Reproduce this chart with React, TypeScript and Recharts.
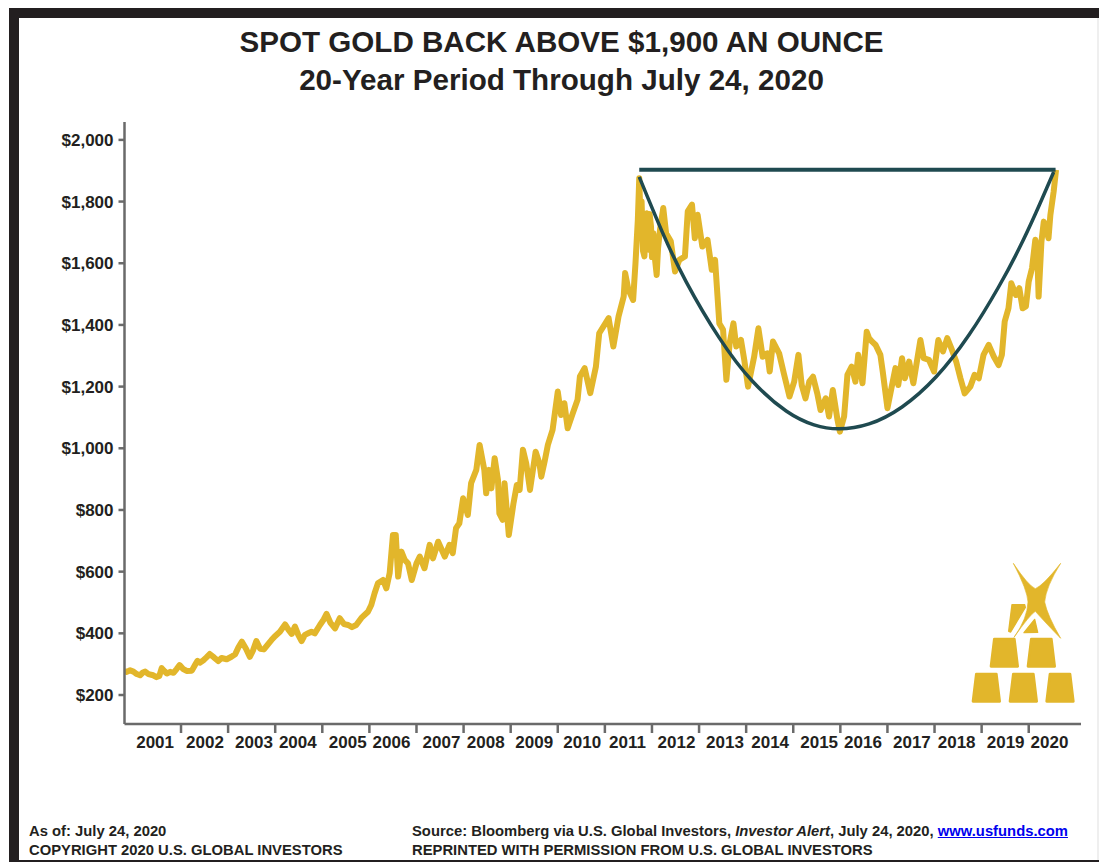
import React from 'react';
import { LineChart, Line, XAxis, YAxis } from 'recharts';

const goldYears = [
  2000.8, 2000.85, 2000.92, 2000.99, 2001.06, 2001.13, 2001.19, 2001.24, 2001.31, 2001.41,
  2001.48, 2001.54, 2001.59, 2001.65, 2001.7, 2001.77, 2001.84, 2001.91, 2001.97, 2002.04,
  2002.12, 2002.23, 2002.3, 2002.35, 2002.4, 2002.47, 2002.54, 2002.61, 2002.7, 2002.79,
  2002.86, 2002.97, 2003.07, 2003.15, 2003.22, 2003.29, 2003.38, 2003.46, 2003.53, 2003.6,
  2003.68, 2003.76, 2003.85, 2003.92, 2003.99, 2004.1, 2004.21, 2004.28, 2004.35, 2004.42,
  2004.49, 2004.56, 2004.63, 2004.7, 2004.77, 2004.84, 2004.95, 2005.03, 2005.09, 2005.17,
  2005.27, 2005.37, 2005.46, 2005.55, 2005.63, 2005.72, 2005.83, 2005.97, 2006.04, 2006.11,
  2006.18, 2006.29, 2006.36, 2006.43, 2006.5, 2006.56, 2006.61, 2006.68, 2006.75, 2006.82,
  2006.9, 2007.0, 2007.07, 2007.17, 2007.28, 2007.35, 2007.46, 2007.6, 2007.7, 2007.77,
  2007.84, 2007.91, 2007.99, 2008.09, 2008.16, 2008.27, 2008.34, 2008.44, 2008.48, 2008.54,
  2008.59, 2008.66, 2008.73, 2008.76, 2008.83, 2008.87, 2008.96, 2009.06, 2009.13, 2009.19,
  2009.26, 2009.33, 2009.41, 2009.53, 2009.61, 2009.65, 2009.72, 2009.79, 2009.89, 2010.0,
  2010.07, 2010.14, 2010.21, 2010.32, 2010.42, 2010.47, 2010.57, 2010.69, 2010.81, 2010.88,
  2011.08, 2011.18, 2011.29, 2011.4, 2011.43, 2011.5, 2011.6, 2011.65, 2011.7, 2011.73,
  2011.76, 2011.78, 2011.81, 2011.84, 2011.87, 2011.89, 2011.91, 2011.93, 2011.95, 2011.98,
  2012.0, 2012.03, 2012.06, 2012.1, 2012.13, 2012.17, 2012.24, 2012.3,
  2012.4, 2012.49, 2012.58, 2012.7, 2012.76, 2012.85, 2012.91, 2012.97, 2013.07, 2013.18,
  2013.27, 2013.34, 2013.43, 2013.51, 2013.58, 2013.65, 2013.73, 2013.79, 2013.89, 2013.96,
  2014.04, 2014.17, 2014.26, 2014.35, 2014.45, 2014.5, 2014.57, 2014.7, 2014.8, 2014.92,
  2015.02, 2015.11, 2015.18, 2015.26, 2015.34, 2015.42, 2015.51, 2015.58, 2015.69, 2015.76,
  2015.84, 2015.94, 2015.99, 2016.08, 2016.15, 2016.24, 2016.32, 2016.38, 2016.47, 2016.56,
  2016.61, 2016.68, 2016.75, 2016.85, 2016.9, 2017.0, 2017.07, 2017.17, 2017.23, 2017.31,
  2017.37, 2017.46, 2017.55, 2017.7, 2017.77, 2017.88, 2017.99, 2018.08, 2018.18, 2018.27,
  2018.37, 2018.46, 2018.55, 2018.64, 2018.76, 2018.85, 2018.94, 2019.04, 2019.15, 2019.26,
  2019.36, 2019.43, 2019.49, 2019.57, 2019.63, 2019.73, 2019.8, 2019.87, 2019.94, 2020.0,
  2020.07, 2020.14, 2020.18, 2020.21, 2020.27, 2020.32, 2020.42, 2020.46, 2020.53, 2020.58,
];

const goldPrices = [
  278, 275, 280, 276, 268, 264, 273, 276, 268, 264,
  258, 262, 287, 277, 270, 275, 272, 285, 297, 285,
  278, 279, 298, 311, 305, 312, 322, 333, 322, 310,
  320, 316, 324, 332, 355, 373, 350, 324, 345, 375,
  350, 348, 365, 378, 390, 405, 429, 412, 398, 422,
  395, 375, 395, 400, 405, 400, 427, 445, 463, 435,
  416, 449, 430, 427, 420, 427, 450, 470, 492, 530,
  562, 573, 546, 595, 719, 719, 584, 665, 638, 627,
  573, 627, 649, 611, 687, 643, 697, 649, 687, 660,
  741, 757, 838, 784, 887, 930, 1011, 930, 854, 930,
  870, 968, 897, 789, 768, 887, 719, 822, 881, 865,
  995, 951, 865, 989, 951, 908, 957, 1011, 1060, 1184,
  1108, 1146, 1065, 1114, 1157, 1233, 1260, 1179, 1265, 1373,
  1422, 1330, 1427, 1492, 1568, 1514, 1481, 1600, 1741, 1876,
  1720, 1800, 1640, 1622, 1740, 1762, 1660, 1644, 1760, 1719,
  1620, 1697, 1620, 1562, 1650, 1708, 1779, 1697,
  1671, 1573, 1611, 1622, 1768, 1790, 1681, 1757, 1654, 1676,
  1579, 1611, 1405, 1384, 1222, 1341, 1405, 1330, 1351, 1286,
  1200, 1297, 1389, 1297, 1308, 1249, 1346, 1308, 1243, 1168,
  1216, 1303, 1205, 1162, 1216, 1232, 1178, 1124, 1162, 1103,
  1189, 1092, 1054, 1103, 1238, 1265, 1216, 1303, 1211, 1378,
  1357, 1345, 1335, 1303, 1249, 1130, 1184, 1260, 1205, 1292,
  1227, 1281, 1211, 1351, 1292, 1287, 1249, 1351, 1314, 1357,
  1319, 1281, 1227, 1178, 1200, 1238, 1227, 1303, 1335, 1297,
  1270, 1303, 1411, 1454, 1535, 1497, 1519, 1454, 1460, 1541,
  1584, 1676, 1640, 1492, 1670, 1735, 1681, 1757, 1833, 1903,
];

const cupYears = [
  2011.73, 2012.22, 2012.73, 2013.43, 2014.13, 2014.85, 2015.44, 2015.97,
  2016.61, 2017.31, 2018.03, 2018.73, 2019.36, 2019.79, 2020.15, 2020.53,
];
const cupPrices = [
  1880, 1701, 1539, 1358, 1218, 1121, 1076, 1063,
  1079, 1134, 1231, 1367, 1523, 1646, 1763, 1896,
];

const rimYears = [2011.73, 2020.57];
const rimPrices = [1903, 1903];

const priceTicks = [200, 400, 600, 800, 1000, 1200, 1400, 1600, 1800, 2000];
const yearBoundaries = [
  2002, 2003, 2004, 2005, 2006, 2007, 2008, 2009, 2010, 2011,
  2012, 2013, 2014, 2015, 2016, 2017, 2018, 2019, 2020,
];
// where each year label sits, they are not evenly spaced in the original
const yearLabelPositions = [
  2001.45, 2002.51, 2003.55, 2004.48, 2005.54, 2006.47, 2007.53, 2008.47, 2009.5, 2010.52,
  2011.48, 2012.52, 2013.55, 2014.51, 2015.55, 2016.48, 2017.52, 2018.47, 2019.51, 2020.44,
];

const goldData = goldYears.map((year, i) => ({ year, price: goldPrices[i] }));
const cupData = cupYears.map((year, i) => ({ year, price: cupPrices[i] }));
const rimData = rimYears.map((year, i) => ({ year, price: rimPrices[i] }));

const INK = '#231f20';
const GOLD = '#e2b62b';
const TEAL = '#1f4a50';
const AXIS = '#6a6a6a';
const FONT = '"Liberation Sans", Arial, sans-serif';
const X_DOMAIN: [number, number] = [2000.8, 2021.11];

const tickStyle = { fill: INK, fontSize: 17, fontWeight: 700, fontFamily: FONT };

function formatPrice(value: number) {
  return `$${value.toLocaleString('en-US')}`;
}

function GoldBarsLogo() {
  const bar = (x: number, y: number) =>
    `M${x + 14} ${y + 4} L${x + 74} ${y + 4} L${x + 84} ${y + 86} L${x + 4} ${y + 86} Z`;
  return (
    <svg
      width={159}
      height={220}
      viewBox="0 0 477 660"
      style={{ position: 'absolute', left: 940, top: 540 }}
    >
      <g fill={GOLD} stroke={GOLD} strokeWidth={8} strokeLinejoin="round">
        <path d={bar(95, 398)} />
        <path d={bar(206, 398)} />
        <path d={bar(316, 398)} />
        <path d={bar(149, 293)} />
        <path d={bar(260, 293)} />
        <path strokeWidth={4} d="M216 194 L254 194 L256 202 L212 276 L206 274 Z" />
        <path strokeWidth={4} d="M284 238 L293 277 L252 278 Z" />
        <path
          strokeWidth={2}
          d="M220 70 Q264 136 286 146 Q310 136 362 70 Q318 140 314 186 Q322 226 362 295 Q318 250 286 214 Q268 226 222 292 Q262 236 264 186 Q262 150 220 70 Z"
        />
      </g>
    </svg>
  );
}

const footerStyle: React.CSSProperties = {
  position: 'absolute',
  fontFamily: FONT,
  fontWeight: 700,
  fontSize: 14.8,
  lineHeight: '19px',
  color: INK,
  whiteSpace: 'nowrap',
};

export default function App() {
  return (
    <div
      style={{
        position: 'absolute',
        left: 0,
        top: 0,
        width: 1099,
        height: 862,
        background: '#fff',
        overflow: 'hidden',
      }}
    >
      <div style={{ position: 'absolute', left: 9, top: 8, width: 1090, height: 10, background: INK }} />
      <div style={{ position: 'absolute', left: 9, top: 8, width: 10, height: 854, background: INK }} />
      <div style={{ position: 'absolute', left: 9, top: 860, width: 1090, height: 2, background: INK }} />
      <div style={{ position: 'absolute', left: 1097, top: 18, width: 2, height: 842, background: '#efefef' }} />

      <div
        style={{
          position: 'absolute',
          left: 19,
          top: 23,
          width: 1085,
          textAlign: 'center',
          fontFamily: FONT,
          fontWeight: 700,
          fontSize: 29.6,
          lineHeight: '38px',
          color: INK,
        }}
      >
        <div>SPOT GOLD BACK ABOVE $1,900 AN OUNCE</div>
        <div>20-Year Period Through July 24, 2020</div>
      </div>

      <div style={{ position: 'absolute', left: 0, top: 0 }}>
        <LineChart
          width={1099}
          height={862}
          margin={{ top: 122, right: 18, bottom: 0, left: 24.5 }}
        >
          <XAxis
            xAxisId="bounds"
            type="number"
            dataKey="year"
            domain={X_DOMAIN}
            allowDataOverflow
            ticks={yearBoundaries}
            interval={0}
            height={6}
            stroke={AXIS}
            strokeWidth={2.5}
            tickSize={9}
            tickFormatter={() => ''}
          />
          <XAxis
            xAxisId="labels"
            type="number"
            dataKey="year"
            domain={X_DOMAIN}
            allowDataOverflow
            ticks={yearLabelPositions}
            interval={0}
            height={132}
            axisLine={false}
            tickLine={false}
            tickMargin={0}
            tick={tickStyle}
            tickFormatter={(v: number) => String(Math.floor(v))}
          />
          <YAxis
            type="number"
            domain={[106, 2058]}
            allowDataOverflow
            ticks={priceTicks}
            interval={0}
            width={100}
            stroke={AXIS}
            strokeWidth={2.5}
            tickSize={6}
            tickMargin={5}
            tick={tickStyle}
            tickFormatter={formatPrice}
          />
          <Line
            xAxisId="bounds"
            data={goldData}
            dataKey="price"
            type="linear"
            stroke={GOLD}
            strokeWidth={6}
            strokeLinejoin="round"
            dot={false}
            isAnimationActive={false}
          />
          <Line
            xAxisId="bounds"
            data={rimData}
            dataKey="price"
            type="linear"
            stroke={TEAL}
            strokeWidth={4}
            dot={false}
            isAnimationActive={false}
          />
          <Line
            xAxisId="bounds"
            data={cupData}
            dataKey="price"
            type="natural"
            stroke={TEAL}
            strokeWidth={3.5}
            dot={false}
            isAnimationActive={false}
          />
        </LineChart>
      </div>

      <GoldBarsLogo />

      <div style={{ ...footerStyle, left: 29, top: 822 }}>
        <div>As of: July 24, 2020</div>
        <div>COPYRIGHT 2020 U.S. GLOBAL INVESTORS</div>
      </div>
      <div style={{ ...footerStyle, left: 412, top: 822 }}>
        <div>
          Source: Bloomberg via U.S. Global Investors, <i>Investor Alert</i>, July 24, 2020,{' '}
          <span style={{ color: '#0000ee', textDecoration: 'underline' }}>www.usfunds.com</span>
        </div>
        <div>REPRINTED WITH PERMISSION FROM U.S. GLOBAL INVESTORS</div>
      </div>
    </div>
  );
}
